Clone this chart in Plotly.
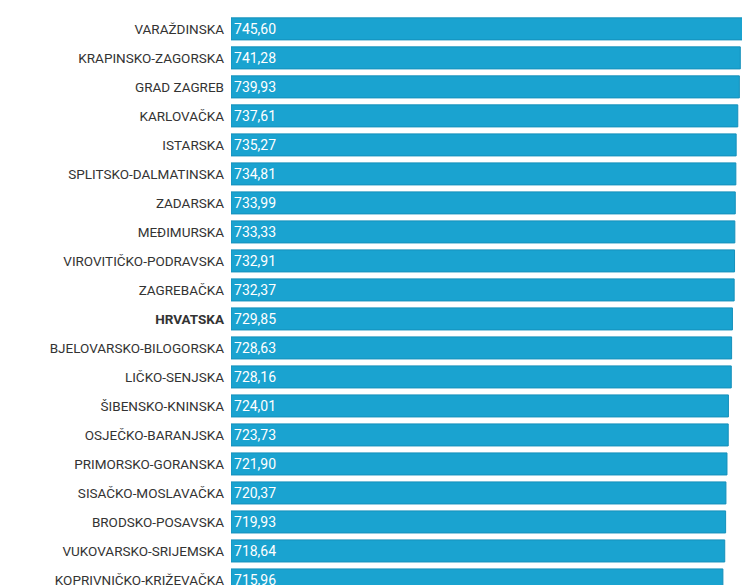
import plotly.graph_objects as go

# Data
regions = [
    "VARAŽDINSKA", "KRAPINSKO-ZAGORSKA", "GRAD ZAGREB", "KARLOVAČKA", "ISTARSKA",
    "SPLITSKO-DALMATINSKA", "ZADARSKA", "MEĐIMURSKA", "VIROVITIČKO-PODRAVSKA", "ZAGREBAČKA",
    "HRVATSKA", "BJELOVARSKO-BILOGORSKA", "LIČKO-SENJSKA", "ŠIBENSKO-KNINSKA", "OSJEČKO-BARANJSKA",
    "PRIMORSKO-GORANSKA", "SISAČKO-MOSLAVAČKA", "BRODSKO-POSAVSKA", "VUKOVARSKO-SRIJEMSKA",
    "KOPRIVNIČKO-KRIŽEVAČKA",
]
values = [745.60, 741.28, 739.93, 737.61, 735.27, 734.81, 733.99, 733.33, 732.91, 732.37,
          729.85, 728.63, 728.16, 724.01, 723.73, 721.90, 720.37, 719.93, 718.64, 715.96]

tick_labels = ["<b>%s</b>" % r if r == "HRVATSKA" else r for r in regions]
texts = ["{:.2f}".format(v).replace(".", ",") for v in values]

fig = go.Figure(go.Bar(
    x=values,
    y=regions,
    orientation="h",
    marker=dict(color="#1aa3d0", line=dict(color="#1590bb", width=1)),
    width=0.76,
    text=texts,
    textposition="inside",
    insidetextanchor="start",
    textfont=dict(color="white", size=14, family="Roboto"),
    hoverinfo="skip",
))

fig.update_layout(
    width=750,
    height=585,
    margin=dict(l=223, r=10, t=0, b=0),
    plot_bgcolor="white",
    paper_bgcolor="white",
    showlegend=False,
    font=dict(family="Roboto", size=13.5, color="#333"),
    xaxis=dict(range=[0, 752.5], visible=False),
    yaxis=dict(
        range=[19.45, -0.72],
        tickmode="array",
        tickvals=regions,
        ticktext=tick_labels,
        ticks="",
        showgrid=False,
        automargin=False,
        ticklabelstandoff=6,
    ),
)

fig.write_html("out.html")
